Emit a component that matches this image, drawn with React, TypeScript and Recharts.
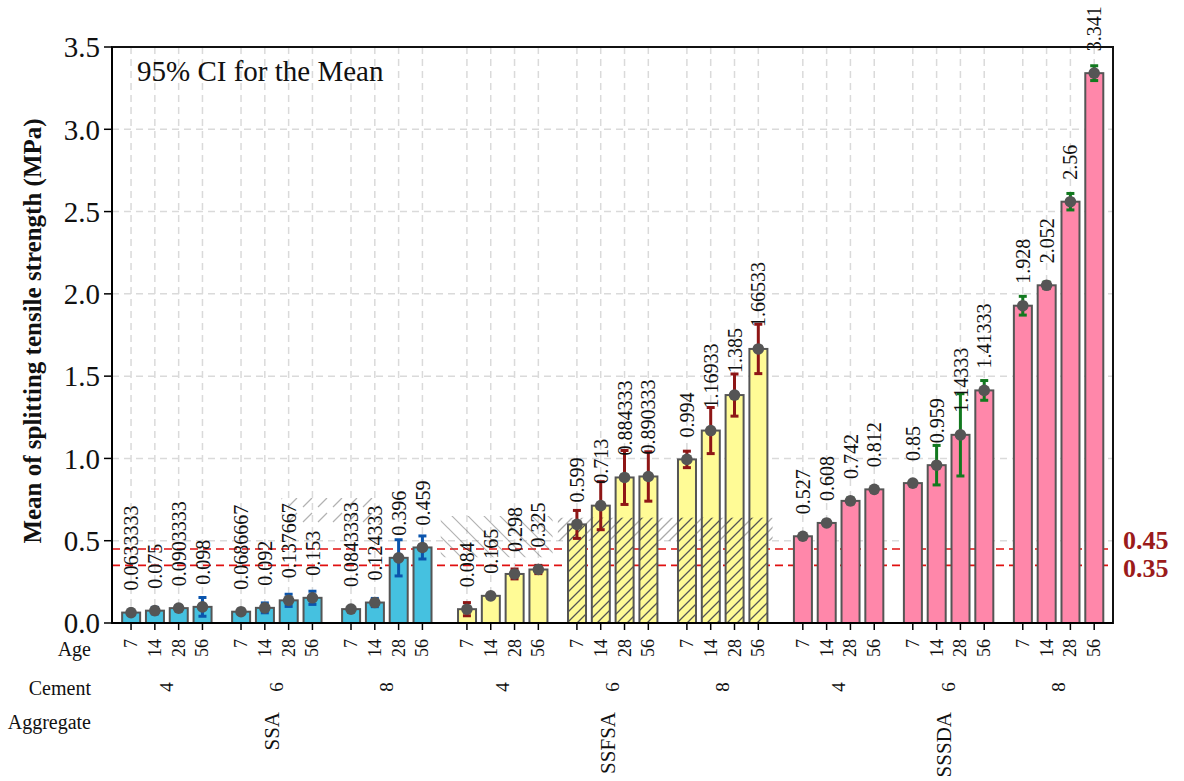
import React from 'react';
import {
  ComposedChart,
  Bar,
  Scatter,
  ErrorBar,
  XAxis,
  YAxis,
  CartesianGrid,
  ReferenceLine,
  ReferenceArea,
  LabelList,
} from 'recharts';

const SERIF = 'Liberation Serif, Times New Roman, serif';

// Categories
const ages = [7, 14, 28, 56];
const cements = [4, 6, 8];
const aggregates = ['SSA', 'SSFSA', 'SSSDA'];

// Means, ordered cement 4/6/8 x age 7/14/28/56
const ssaMean = [0.0633333, 0.075, 0.0903333, 0.098, 0.0686667, 0.092, 0.137667, 0.153, 0.0843333, 0.124333, 0.396, 0.459];
const ssfsaMean = [0.084, 0.165, 0.298, 0.325, 0.599, 0.713, 0.884333, 0.890333, 0.994, 1.16933, 1.385, 1.66533];
const sssdaMean = [0.527, 0.608, 0.742, 0.812, 0.85, 0.959, 1.14333, 1.41333, 1.928, 2.052, 2.56, 3.341];

// Half width of the 95% CI
const ssaCi = [0.01, 0.02, 0.015, 0.057, 0.01, 0.03, 0.037, 0.04, 0.01, 0.025, 0.11, 0.07];
const ssfsaCi = [0.04, 0.015, 0.03, 0.025, 0.085, 0.146, 0.164, 0.15, 0.05, 0.14, 0.128, 0.15];
const sssdaCi = [0.01, 0.012, 0.018, 0.01, 0.01, 0.12, 0.25, 0.06, 0.057, 0.02, 0.05, 0.045];

const yTicks = [0, 0.5, 1, 1.5, 2, 2.5, 3, 3.5];
const limits = [0.45, 0.35];

// layout of the grouped positions on the numeric x axis
const GROUP_STEP = 4.62;
const AGG_STEP = 14.11;
const X_DOMAIN = [-0.8, 41.25];
const HATCH_TOP = 0.64;

const fills = ['#45c1e0', '#fffb96', '#ff87aa'];
const ciColors = ['#0b55ad', '#8e1616', '#12791f'];
const hatchedGroups = ['SSFSA-6', 'SSFSA-8'];

const means = [ssaMean, ssfsaMean, sssdaMean];
const cis = [ssaCi, ssfsaCi, sssdaCi];

const posOf = (a: number, c: number, i: number) => a * AGG_STEP + c * GROUP_STEP + i;

const rows = aggregates.flatMap((agg, a) =>
  cements.flatMap((cem, c) =>
    ages.map((age, i) => ({
      pos: posOf(a, c, i),
      agg: a,
      cem,
      age,
      value: means[a][c * 4 + i],
      ci: cis[a][c * 4 + i],
    }))
  )
);

const positions = rows.map((r) => r.pos);
const groupCenters = aggregates.flatMap((_, a) => cements.map((_, c) => posOf(a, c, 1.5)));
const aggCenters = aggregates.map((_, a) => posOf(a, 1, 1.3));

const HatchDefs = () => (
  <defs>
    <pattern id="hatch" width="10" height="10" patternUnits="userSpaceOnUse">
      <path d="M0,10 L10,0 M-2,2 L2,-2 M8,12 L12,8" stroke="#555" strokeWidth={1.3} />
    </pattern>
    <pattern id="hatchSparse" width="15" height="15" patternUnits="userSpaceOnUse">
      <path d="M3,12 L12,3" stroke="#666" strokeWidth={1.2} />
    </pattern>
    <pattern id="hatchBack" width="16" height="16" patternUnits="userSpaceOnUse">
      <path d="M0,0 L16,16 M-2,14 L2,18 M14,-2 L18,2" stroke="#666" strokeWidth={1.2} />
    </pattern>
  </defs>
);

const BarShape = (p: any) => {
  const { x, y, width, height, payload } = p;
  if (height == null || isNaN(height)) return null;
  const hatched = hatchedGroups.includes(`${aggregates[payload.agg]}-${payload.cem}`);
  let hatch = null;
  if (hatched && height > 0) {
    const pxPerUnit = height / payload.value;
    const top = Math.max(y, y + height - HATCH_TOP * pxPerUnit);
    hatch = <rect x={x} y={top} width={width} height={y + height - top} fill="url(#hatch)" />;
  }
  return (
    <g>
      {payload.pos === 0 && <HatchDefs />}
      <rect x={x} y={y} width={width} height={height} fill={fills[payload.agg]} />
      {hatch}
      <rect x={x} y={y} width={width} height={height} fill="none" stroke="#555" strokeWidth={2} />
    </g>
  );
};

const Dot = (p: any) => <circle cx={p.cx} cy={p.cy} r={5.8} fill="#555" />;

const ValueLabel = (p: any) => {
  const { x, y, width, value } = p;
  const cx = x + width / 2;
  return (
    <text
      transform={`translate(${cx},${y - 22}) rotate(-90)`}
      textAnchor="start"
      dominantBaseline="central"
      fontSize={20}
      fontFamily={SERIF}
      fill="#111"
    >
      {String(value)}
    </text>
  );
};

const rowLabel = (text: string, y: number) => (
  <text x={91} y={y} textAnchor="end" dominantBaseline="central" fontSize={20} fontFamily={SERIF} fill="#111">
    {text}
  </text>
);

const AgeTick = (p: any) => {
  const { x, y, index } = p;
  return (
    <g>
      {index === 0 && rowLabel('Age', y + 10)}
      <text
        transform={`translate(${x},${y}) rotate(-90)`}
        textAnchor="end"
        dominantBaseline="central"
        fontSize={18}
        fontFamily={SERIF}
        fill="#111"
      >
        {rows[index] ? rows[index].age : ''}
      </text>
    </g>
  );
};

const CementTick = (p: any) => {
  const { x, y, index } = p;
  return (
    <g>
      {index === 0 && rowLabel('Cement', y + 20)}
      <text
        transform={`translate(${x},${y + 19}) rotate(-90)`}
        textAnchor="middle"
        dominantBaseline="central"
        fontSize={19}
        fontFamily={SERIF}
        fill="#111"
      >
        {cements[index % 3]}
      </text>
    </g>
  );
};

const AggTick = (p: any) => {
  const { x, y, index } = p;
  return (
    <g>
      {index === 0 && rowLabel('Aggregate', y + 19)}
      <text
        transform={`translate(${x},${y + 9}) rotate(-90)`}
        textAnchor="end"
        dominantBaseline="central"
        fontSize={21}
        fontFamily={SERIF}
        fill="#111"
      >
        {aggregates[index]}
      </text>
    </g>
  );
};

const limitLabel = (v: number) => (props: any) => {
  const { viewBox } = props;
  const dy = v === 0.45 ? -8 : 3;
  return (
    <text
      x={viewBox.x + viewBox.width + 10}
      y={viewBox.y + dy}
      dominantBaseline="central"
      fontSize={26}
      fontWeight="bold"
      fontFamily={SERIF}
      fill="#9b1b1b"
    >
      {v.toFixed(2)}
    </text>
  );
};

export default function App() {
  const hidden = {
    dataKey: 'pos',
    type: 'number' as const,
    domain: X_DOMAIN,
    allowDataOverflow: true,
    axisLine: false,
    tickLine: false,
    tickSize: 0,
    tickMargin: 0,
    interval: 0 as const,
  };
  return (
    <div style={{ position: 'absolute', left: 0, top: 0, width: 1184, height: 781, background: '#fff' }}>
      <ComposedChart
        width={1184}
        height={781}
        data={rows}
        margin={{ top: 47, right: 71, bottom: 0, left: 48 }}
      >
        <CartesianGrid stroke="#dadada" strokeDasharray="7 5" strokeWidth={1.5} />
        {/* limit lines as a grid so they sit behind the bars */}
        <CartesianGrid
          vertical={false}
          horizontalValues={limits}
          stroke="#e01010"
          strokeDasharray="8 5"
          strokeWidth={1.6}
        />
        <XAxis
          dataKey="pos"
          type="number"
          domain={X_DOMAIN}
          allowDataOverflow
          ticks={positions}
          interval={0}
          tick={<AgeTick />}
          tickSize={7}
          tickMargin={9}
          height={45}
          axisLine={{ stroke: '#000', strokeWidth: 2 }}
          tickLine={{ stroke: '#000', strokeWidth: 1.5 }}
        />
        <XAxis xAxisId="b2" ticks={aggCenters} tick={<AggTick />} height={78} {...hidden} />
        <XAxis xAxisId="b1" ticks={groupCenters} tick={<CementTick />} height={35} {...hidden} />
        <YAxis
          type="number"
          domain={[0, 3.5]}
          ticks={yTicks}
          interval={0}
          allowDataOverflow
          tickFormatter={(v: number) => v.toFixed(1)}
          width={64}
          tickSize={8}
          tickMargin={4}
          axisLine={{ stroke: '#000', strokeWidth: 2 }}
          tickLine={{ stroke: '#000', strokeWidth: 1.5 }}
          tick={{ fontSize: 29, fill: '#111', fontFamily: SERIF }}
          label={{
            content: () => (
              <text
                transform="translate(32,331) rotate(-90)"
                textAnchor="middle"
                dominantBaseline="central"
                fontSize={25}
                fontWeight="bold"
                fontFamily={SERIF}
                fill="#111"
              >
                Mean of splitting tensile strength (MPa)
              </text>
            ),
          }}
        />
        {limits.map((v) => (
          <ReferenceLine key={v} y={v} stroke="none" label={limitLabel(v)} />
        ))}
        <ReferenceArea
          x1={posOf(0, 1, 2) - 0.3}
          x2={posOf(0, 2, 1) + 0.2}
          y1={0.6}
          y2={0.76}
          fill="url(#hatchSparse)"
          stroke="none"
        />
        <ReferenceArea
          x1={posOf(1, 0, 0) - 1.1}
          x2={posOf(1, 0, 3) + 0.6}
          y1={0.4}
          y2={0.65}
          fill="url(#hatchBack)"
          stroke="none"
        />
        <ReferenceArea
          x1={posOf(1, 1, 0) - 0.8}
          x2={posOf(1, 2, 3) + 0.6}
          y1={0.5}
          y2={HATCH_TOP}
          fill="url(#hatch)"
          stroke="none"
        />
        <Bar dataKey="value" barSize={18} shape={BarShape} isAnimationActive={false}>
          <LabelList dataKey="value" content={ValueLabel} />
        </Bar>
        {aggregates.map((agg, a) => (
          <Scatter
            key={agg}
            data={rows.filter((r) => r.agg === a)}
            dataKey="value"
            shape={Dot}
            isAnimationActive={false}
          >
            <ErrorBar dataKey="ci" direction="y" width={4} strokeWidth={3} stroke={ciColors[a]} isAnimationActive={false} />
          </Scatter>
        ))}
        <ReferenceArea y1={0} y2={3.5} fill="none" stroke="#111" strokeWidth={2} ifOverflow="visible" />
      </ComposedChart>
      <div
        style={{
          position: 'absolute',
          left: 137,
          top: 57,
          fontFamily: SERIF,
          fontSize: 29,
          lineHeight: 1,
          color: '#111',
          whiteSpace: 'nowrap',
        }}
      >
        95% CI for the Mean
      </div>
    </div>
  );
}
